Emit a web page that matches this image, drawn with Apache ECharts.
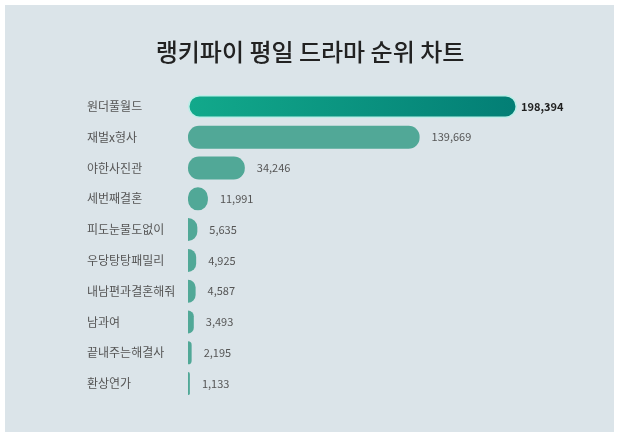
<!DOCTYPE html>
<html><head><meta charset="utf-8">
<script src="https://cdn.jsdelivr.net/npm/echarts@6/dist/echarts.min.js"></script>
<style>html,body{margin:0;padding:0;background:#fff}#c{width:620px;height:438px}</style>
</head><body><div id="c"></div>
<script>
const titleText = '랭키파이 평일 드라마 순위 차트';
const categories = ['원더풀월드','재벌x형사','야한사진관','세번째결혼','피도눈물도없이','우당탕탕패밀리','내남편과결혼해줘','남과여','끝내주는해결사','환상연가'];
const values = [198394,139669,34246,11991,5635,4925,4587,3493,2195,1133];

const font = '"Noto Sans CJK KR", "Noto Sans", sans-serif';
const chart = echarts.init(document.getElementById('c'));
const data = values.map((v, i) => {
  const item = { value: v };
  if (i === 0) {
    item.itemStyle = {
      color: new echarts.graphic.LinearGradient(0, 0, 1, 0, [
        { offset: 0, color: '#12a98b' }, { offset: 1, color: '#037e75' }
      ]),
      borderColor: '#bdeee8', borderWidth: 1.5, borderRadius: 11
    };
    item.label = { color: '#1f1f1f', fontWeight: 'bold', distance: 4 };
  } else if (v < 10000) {
    item.itemStyle = { borderRadius: [0, 11, 11, 0] };
  }
  return item;
});
chart.setOption({
  backgroundColor: '#ffffff',
  animation: false,
  graphic: [{
    type: 'rect', z: -10, silent: true,
    shape: { x: 5, y: 5, width: 609, height: 427 },
    style: { fill: '#dbe4e9' }
  }],
  title: {
    text: titleText, left: 'center', top: 35,
    textStyle: { fontFamily: font, fontSize: 24, fontWeight: 500, color: '#222' }
  },
  grid: { left: 188, right: 103, top: 91, bottom: 39, containLabel: false },
  xAxis: {
    type: 'value', min: 0, max: 'dataMax', show: false
  },
  yAxis: {
    type: 'category', data: categories, inverse: true,
    axisLine: { show: false }, axisTick: { show: false }, splitLine: { show: false },
    axisLabel: { align: 'left', margin: 101, fontFamily: font, fontSize: 12, color: '#555' }
  },
  series: [{
    type: 'bar', data: data, barWidth: 23,
    itemStyle: { color: '#51a897', borderRadius: 11 },
    label: {
      show: true, position: 'right', distance: 12,
      fontFamily: font, fontSize: 11, color: '#555',
      formatter: p => p.value.toLocaleString('en-US')
    }
  }]
});
</script></body></html>
